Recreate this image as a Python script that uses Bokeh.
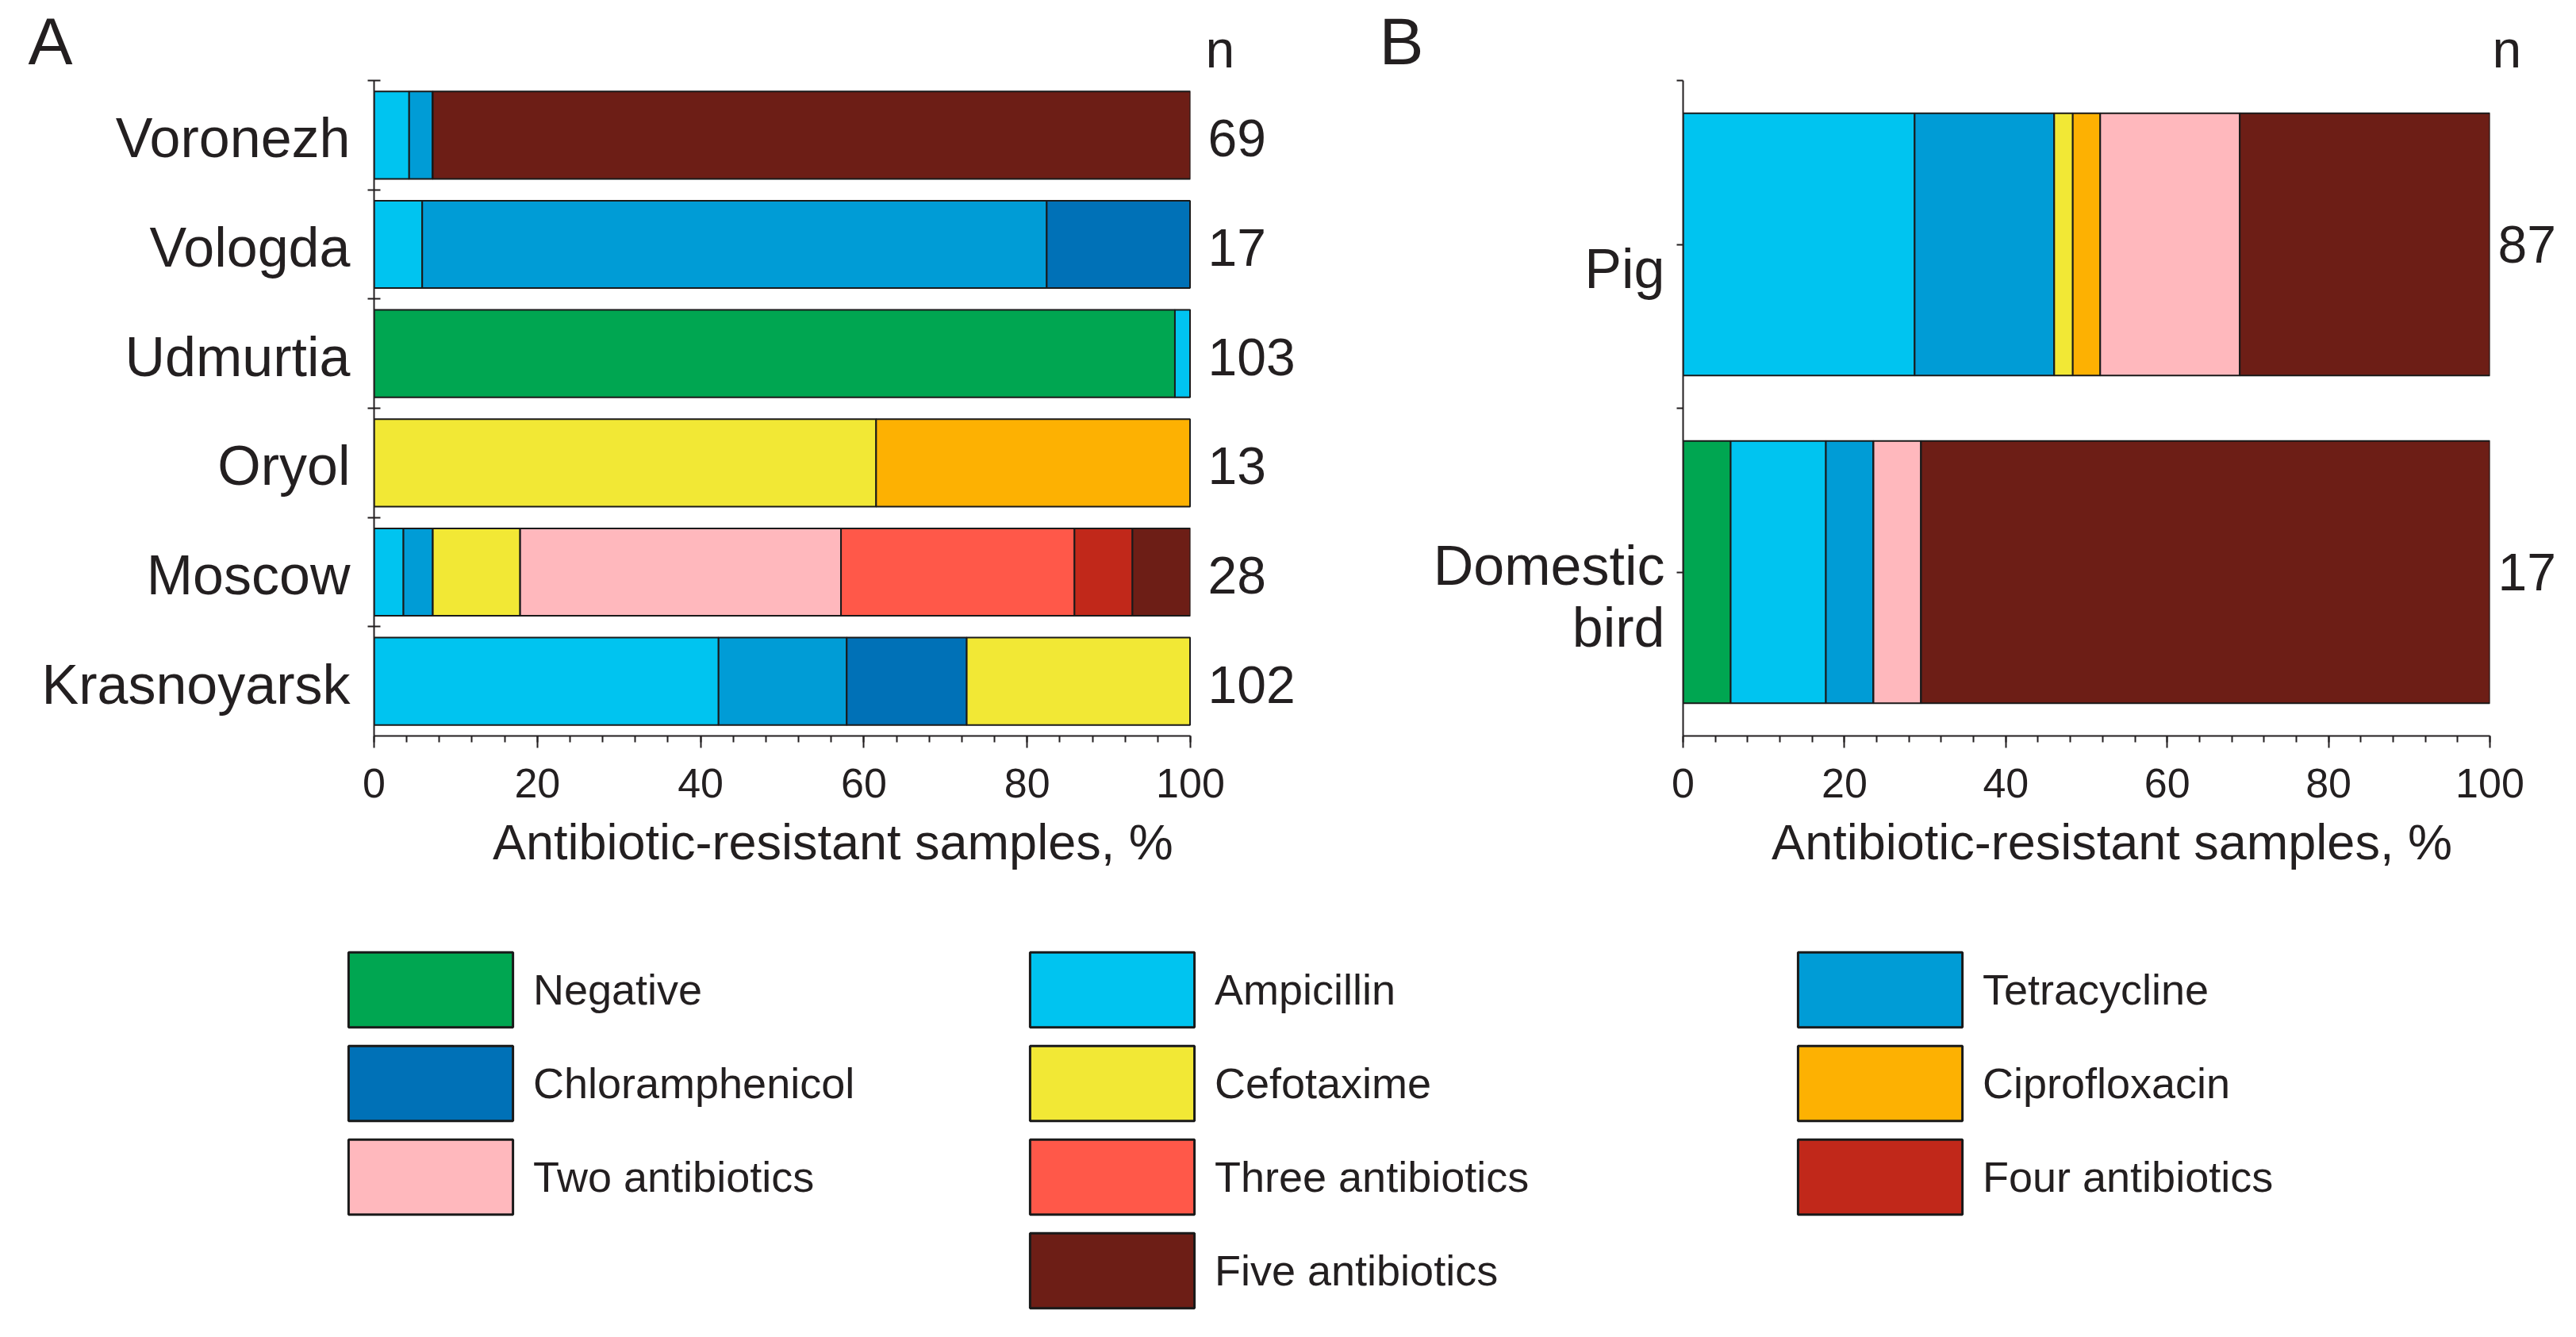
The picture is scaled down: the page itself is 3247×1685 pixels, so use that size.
from bokeh.plotting import figure
from bokeh.models import (Range1d, FixedTicker, LinearAxis, Label, Legend, LegendItem,
                          ColumnDataSource)
from bokeh.layouts import row, column
from bokeh.embed import file_html
from bokeh.resources import INLINE

# ---------------- data ----------------
classes = ["Negative", "Ampicillin", "Tetracycline", "Chloramphenicol", "Cefotaxime",
           "Ciprofloxacin", "Two antibiotics", "Three antibiotics", "Four antibiotics",
           "Five antibiotics"]
class_colors = ["#00a651", "#00c4f0", "#009cd6", "#0071b7", "#f2e835",
                "#fdb102", "#ffb8bd", "#ff5849", "#c1281a", "#6d1e16"]

# Panel A (bottom to top)
regions = ["Krasnoyarsk", "Moscow", "Oryol", "Udmurtia", "Vologda", "Voronezh"]
regions_n = [102, 28, 13, 103, 17, 69]
negative_A = [0, 0, 0, 98.1, 0, 0]
ampicillin_A = [42.2, 3.6, 0, 1.9, 5.9, 4.3]
tetracycline_A = [15.7, 3.6, 0, 0, 76.5, 2.9]
chloramphenicol_A = [14.7, 0, 0, 0, 17.6, 0]
cefotaxime_A = [27.4, 10.7, 61.5, 0, 0, 0]
ciprofloxacin_A = [0, 0, 38.5, 0, 0, 0]
two_A = [0, 39.3, 0, 0, 0, 0]
three_A = [0, 28.6, 0, 0, 0, 0]
four_A = [0, 7.1, 0, 0, 0, 0]
five_A = [0, 7.1, 0, 0, 0, 92.8]

# Panel B (bottom to top)
hosts = ["Domestic\nbird", "Pig"]
hosts_n = [17, 87]
negative_B = [5.9, 0]
ampicillin_B = [11.8, 28.7]
tetracycline_B = [5.9, 17.3]
chloramphenicol_B = [0, 0]
cefotaxime_B = [0, 2.3]
ciprofloxacin_B = [0, 3.4]
two_B = [5.9, 17.3]
three_B = [0, 0]
four_B = [0, 0]
five_B = [70.5, 31.0]

x_ticks = [0, 20, 40, 60, 80, 100]
x_minor_step = 4
x_title = "Antibiotic-resistant samples, %"
panel_letters = ["A", "B"]
n_header = "n"

FONT = "Liberation Sans"
TXT = "#231f20"
EDGE = "#1a1a1a"
keys = ["neg", "amp", "tet", "chl", "cef", "cip", "two", "three", "four", "five"]

HEAD_H = 100
PANEL_H = 1048


def make_panel(cats, counts, series, width, mb_left, mb_right, label_offset,
               center_ticks, left_standoff, right_standoff, title_pos):
    ncat = len(cats)
    centers = [i + 0.5 for i in range(ncat)]
    data = {"y": centers}
    for k, s in zip(keys, series):
        data[k] = s
    src = ColumnDataSource(data)
    p = figure(width=width, height=PANEL_H, x_range=Range1d(0, 100), y_range=Range1d(0, ncat),
               output_backend="svg", toolbar_location=None, title=None,
               min_border_left=mb_left, min_border_right=mb_right,
               min_border_top=1, min_border_bottom=221)
    p.outline_line_color = None
    p.grid.visible = False
    p.hbar_stack(keys, y="y", height=0.8, fill_color=class_colors, line_color=EDGE,
                 line_width=2, source=src)

    # x axis
    xa = p.xaxis[0]
    xa.ticker = FixedTicker(ticks=x_ticks, minor_ticks=list(range(0, 101, x_minor_step)))
    xa.axis_line_width = 2
    xa.axis_line_color = TXT
    xa.major_tick_line_width = 2
    xa.major_tick_line_color = TXT
    xa.minor_tick_line_width = 2
    xa.minor_tick_line_color = TXT
    xa.major_tick_in = 0
    xa.major_tick_out = 15
    xa.minor_tick_in = 0
    xa.minor_tick_out = 8
    xa.major_label_text_font = FONT
    xa.major_label_text_font_size = "52px"
    xa.major_label_text_color = TXT
    xa.major_label_standoff = 26

    # x title as a label-only axis below the main one
    ta = LinearAxis(ticker=FixedTicker(ticks=[title_pos], minor_ticks=[]))
    ta.major_label_overrides = {title_pos: x_title}
    ta.axis_line_color = None
    ta.major_tick_in = 0
    ta.major_tick_out = 0
    ta.minor_tick_in = 0
    ta.minor_tick_out = 0
    ta.major_label_text_font = FONT
    ta.major_label_text_font_size = "63px"
    ta.major_label_text_color = TXT
    ta.major_label_standoff = 18
    p.add_layout(ta, "below")

    # y axis: labels near category centres, minor ticks at band boundaries
    lab_pos = [round(c + label_offset, 3) for c in centers]
    minor = [float(i) for i in range(1, ncat + 1)]
    if center_ticks:
        minor = minor + centers
    ya = p.yaxis[0]
    ya.ticker = FixedTicker(ticks=lab_pos, minor_ticks=minor)
    ya.major_label_overrides = {v: c for v, c in zip(lab_pos, cats)}
    ya.axis_line_width = 2
    ya.axis_line_color = TXT
    ya.major_tick_in = 0
    ya.major_tick_out = 0
    ya.minor_tick_line_width = 2
    ya.minor_tick_line_color = TXT
    ya.minor_tick_in = 0 if center_ticks else 8
    ya.minor_tick_out = 8
    ya.major_label_text_font = FONT
    ya.major_label_text_font_size = "70px"
    ya.major_label_text_color = TXT
    ya.major_label_text_line_height = 1.0
    ya.major_label_standoff = left_standoff

    # right axis: sample counts
    cnt_pos = [round(c + (label_offset if not center_ticks else 0.0), 3) for c in centers]
    ra = LinearAxis(ticker=FixedTicker(ticks=cnt_pos, minor_ticks=[]))
    ra.major_label_overrides = {v: str(n) for v, n in zip(cnt_pos, counts)}
    ra.axis_line_color = None
    ra.major_tick_in = 0
    ra.major_tick_out = 0
    ra.minor_tick_in = 0
    ra.minor_tick_out = 0
    ra.major_label_text_font = FONT
    ra.major_label_text_font_size = "66px"
    ra.major_label_text_color = TXT
    ra.major_label_standoff = right_standoff
    p.add_layout(ra, "right")
    return p


seriesA = [negative_A, ampicillin_A, tetracycline_A, chloramphenicol_A, cefotaxime_A,
           ciprofloxacin_A, two_A, three_A, four_A, five_A]
seriesB = [negative_B, ampicillin_B, tetracycline_B, chloramphenicol_B, cefotaxime_B,
           ciprofloxacin_B, two_B, three_B, four_B, five_B]

pA = make_panel(regions, regions_n, seriesA, 1658, 471, 158, -0.03, False, 22, 22, 56.2)
pB = make_panel(hosts, hosts_n, seriesB, 1573, 463, 93, -0.075, True, 15, 10, 53.15)

# ---------------- header (panel letters and "n") ----------------
pH = figure(width=3231, height=HEAD_H, x_range=Range1d(0, 3231), y_range=Range1d(0, HEAD_H),
            output_backend="svg", toolbar_location=None, title=None, min_border=0,
            x_axis_location=None, y_axis_location=None)
pH.outline_line_color = None
pH.grid.visible = False

for lx, lt in zip([35, 1738], panel_letters):
    pH.add_layout(Label(x=lx, y=49, text=lt, text_font=FONT, text_font_size="84px",
                        text_color=TXT, text_align="left", text_baseline="middle"))
for lx in [1519, 3141]:
    pH.add_layout(Label(x=lx, y=39, text=n_header, text_font=FONT, text_font_size="66px",
                        text_color=TXT, text_align="left", text_baseline="middle"))

# ---------------- legend ----------------
LEG_H = 520
pL = figure(width=3231, height=LEG_H, x_range=Range1d(0, 1), y_range=Range1d(0, 1),
            output_backend="svg", toolbar_location=None, title=None, min_border=0,
            x_axis_location=None, y_axis_location=None)
pL.outline_line_color = None
pL.grid.visible = False
nan = float("nan")
# swatch-only renderers: their single row has no drawable coordinates
rends = [pL.hbar(y=[nan], left=[nan], right=[nan], height=0.1, fill_color=c,
                 line_color=EDGE, line_width=3) for c in class_colors]

legend_columns = [[0, 3, 6], [1, 4, 7, 9], [2, 5, 8]]
legend_x = [413, 1272, 2240]
GH = 118
for idxs, lx in zip(legend_columns, legend_x):
    items = [LegendItem(label=classes[i], renderers=[rends[i]]) for i in idxs]
    h = len(idxs) * GH
    ly = int(LEG_H - 40 - h)
    leg = Legend(items=items, location=(lx, ly), orientation="vertical",
                 glyph_width=259, glyph_height=GH, spacing=0, label_standoff=0,
                 padding=0, margin=0, border_line_color=None, background_fill_alpha=0,
                 label_text_font=FONT, label_text_font_size="54px", label_text_color=TXT)
    pL.add_layout(leg)

layout = column(pH, row(pA, pB), pL)
open("out.html", "w").write(file_html(layout, INLINE))
